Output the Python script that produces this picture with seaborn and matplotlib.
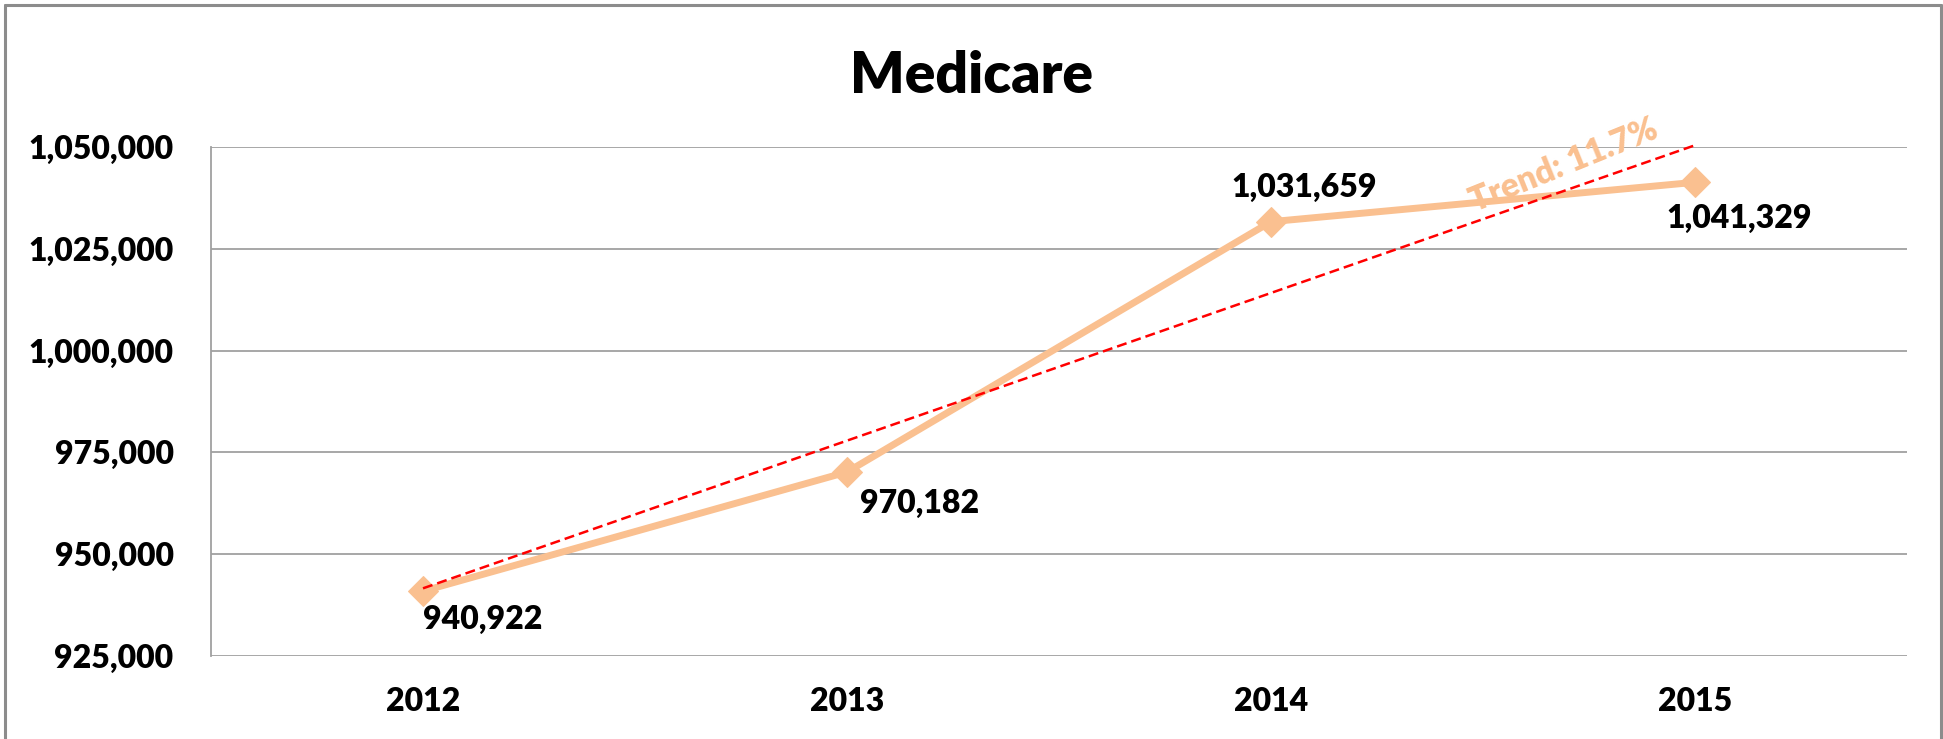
import numpy as np
import pandas as pd
import matplotlib
matplotlib.use("Agg")
import matplotlib.pyplot as plt
from matplotlib.lines import Line2D
import seaborn as sns

# =============================
# DATA
# =============================
years = ["2012", "2013", "2014", "2015"]
enrollment = [940922, 970182, 1031659, 1041329]
y_ticks = [925000, 950000, 975000, 1000000, 1025000, 1050000]
trend_label = "Trend: 11.7%"
title = "Medicare"

LINE_COLOR = "#FAC090"
TREND_COLOR = "#FF0000"
GRID_COLOR = "#A0A0A0"
WEIGHT = "heavy"

df = pd.DataFrame({"year": years, "value": enrollment})

# =============================
# STYLE
# =============================
sns.set_style("white")
plt.rcParams["font.family"] = ["Lato", "DejaVu Sans"]
plt.rcParams["font.weight"] = "bold"
plt.rcParams["text.color"] = "black"
plt.rcParams["xtick.color"] = "black"
plt.rcParams["ytick.color"] = "black"

fig = plt.figure(figsize=(19.43, 7.39), dpi=100)
ax = fig.add_axes([211 / 1943, 83 / 739, (1907 - 211) / 1943, (656 - 147) / 739])

# outer chart border (left, top, right)
for xs, ys in [([5 / 1943, 5 / 1943], [0, 1 - 5 / 739]),
               ([5 / 1943, 1 - 2 / 1943], [1 - 5 / 739, 1 - 5 / 739]),
               ([1 - 2 / 1943, 1 - 2 / 1943], [0, 1 - 5 / 739])]:
    fig.add_artist(Line2D(xs, ys, transform=fig.transFigure, color="#8C8C8C", lw=2.2))

# =============================
# PLOT
# =============================
sns.lineplot(data=df, x="year", y="value", ax=ax, color=LINE_COLOR, lw=5,
             marker="D", markersize=15, markeredgecolor=LINE_COLOR, sort=False, zorder=3)

xpos = np.arange(len(years))
coef = np.polyfit(xpos, enrollment, 1)
trend = np.polyval(coef, xpos)
ax.plot([xpos[0], xpos[-1]], [trend[0], trend[-1]], color=TREND_COLOR, lw=1.8,
        ls=(0, (4, 2)), zorder=4, clip_on=False)

ax.set_xlim(-0.5, len(years) - 0.5)
ax.set_ylim(y_ticks[0], y_ticks[-1])
ax.set_yticks(y_ticks)
ax.set_yticklabels([f"{v:,}" for v in y_ticks])
ax.yaxis.grid(True, color=GRID_COLOR, lw=1.3)
ax.set_axisbelow(True)
ax.tick_params(axis="y", length=0, pad=27, labelsize=23, labelcolor="black")
ax.tick_params(axis="x", length=0, pad=22, labelsize=23, labelcolor="black")
for lab in ax.get_xticklabels() + ax.get_yticklabels():
    lab.set_fontweight(WEIGHT)
ax.set_xlabel("")
ax.set_ylabel("")

for side in ["top", "right", "bottom"]:
    ax.spines[side].set_visible(False)
ax.spines["left"].set_color(GRID_COLOR)
ax.spines["left"].set_linewidth(1.3)

# data labels
offsets = [(0, -14, "left", "top"), (13, -17, "left", "top"),
           (33, 20, "center", "bottom"), (44, -22, "center", "top")]
for i, v in enumerate(enrollment):
    dx, dy, ha, va = offsets[i]
    ax.annotate(f"{v:,}", (i, v), xytext=(dx, dy), textcoords="offset pixels",
                ha=ha, va=va, fontsize=23, fontweight=WEIGHT, color="black", zorder=5)

ax.text(2.69, 1045500, trend_label, rotation=22, rotation_mode="anchor",
        ha="center", va="center", fontsize=24, fontweight=WEIGHT, color=LINE_COLOR)

fig.text(971 / 1943, 1 - 76 / 739, title, ha="center", va="center",
         fontsize=41, fontweight=WEIGHT, color="black")

fig.savefig("out.png", dpi=100)
